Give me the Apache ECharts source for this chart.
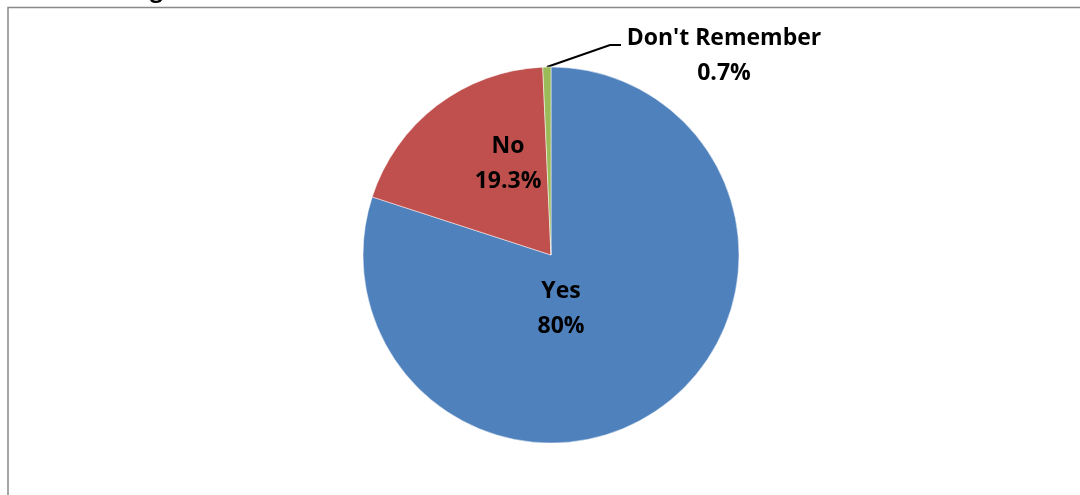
<!DOCTYPE html>
<html>
<head>
<meta charset="utf-8">
<script src="https://cdn.jsdelivr.net/npm/echarts@6/dist/echarts.min.js"></script>
<style>
html,body{margin:0;padding:0;background:#fff;}
#chart{width:1080px;height:495px;}
</style>
</head>
<body>
<div id="chart"></div>
<script>
var categories = ["Yes", "No", "Don't Remember"];
var values = [80, 19.3, 0.7];
var valueLabels = ["80%", "19.3%", "0.7%"];
var colors = ["#4F81BD", "#C0504D", "#9BBB59"];

var chart = echarts.init(document.getElementById('chart'), null, {renderer: 'canvas'});

var labelSpots = [
  {x: 561, y: 309},
  {x: 508, y: 164},
  {x: 724, y: 56}
];

var option = {
  animation: false,
  graphic: [
    {type: 'rect', shape: {x: 8, y: 7.5, width: 1100, height: 520}, style: {fill: 'none', stroke: '#898989', lineWidth: 1.5}, z: 0},
    {type: 'text', left: 150, top: -21, style: {text: 'g', font: 'bold 23px "Open Sans"', fill: '#000'}, z: 0}
  ],
  series: [{
    type: 'pie',
    center: [551, 255],
    radius: [0, 188],
    startAngle: 90,
    clockwise: true,
    avoidLabelOverlap: false,
    data: categories.map(function (c, i) {
      return {
        name: c,
        value: values[i],
        itemStyle: {color: colors[i]},
        labelLine: {show: i === 2}
      };
    }),
    itemStyle: {borderColor: '#ffffff', borderWidth: 0.5},
    label: {
      show: true,
      position: 'outside',
      formatter: function (p) { return p.name + '\n' + valueLabels[p.dataIndex]; },
      fontFamily: '"Open Sans", sans-serif',
      fontWeight: 'bold',
      fontSize: 23,
      lineHeight: 35,
      color: '#000',
      align: 'center'
    },
    labelLine: {
      lineStyle: {color: '#000', width: 2},
      length: 20,
      length2: 10
    },
    labelLayout: function (params) {
      var s = labelSpots[params.dataIndex];
      var res = {x: s.x, y: s.y, align: 'center', verticalAlign: 'middle'};
      if (params.dataIndex === 2 && params.labelLinePoints) {
        var p0 = params.labelLinePoints[0];
        res.labelLinePoints = [p0, [610, 45], [621, 45]];
      }
      return res;
    }
  }]
};
chart.setOption(option);
</script>
</body>
</html>
